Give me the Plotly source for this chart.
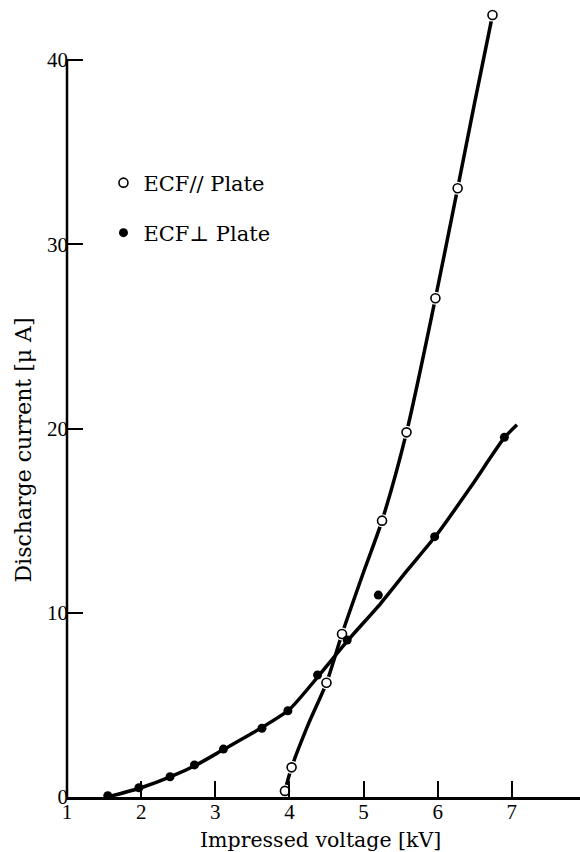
import plotly.graph_objects as go

# ---- data ----
# ECF // Plate (open circles)
par_v = [3.94, 4.03, 4.50, 4.71, 5.25, 5.58, 5.97, 6.27, 6.74]
par_i = [0.33, 1.61, 6.2, 8.85, 15.0, 19.79, 27.07, 33.04, 42.44]
# fitted curve for ECF // Plate
par_curve_v = [3.94, 4.03, 4.25, 4.50, 4.71, 5.0, 5.25, 5.58, 5.97, 6.27, 6.50, 6.74]
par_curve_i = [0.33, 1.61, 3.9, 6.2, 8.85, 12.2, 15.0, 19.79, 27.07, 33.04, 37.7, 42.44]

# ECF ⊥ Plate (filled circles)
perp_v = [1.55, 1.97, 2.39, 2.72, 3.11, 3.63, 3.98, 4.38, 4.78, 5.20, 5.96, 6.90]
perp_i = [0.07, 0.5, 1.1, 1.74, 2.6, 3.73, 4.68, 6.62, 8.52, 10.96, 14.13, 19.52]
# fitted curve for ECF ⊥ Plate
perp_curve_v = [1.55, 2.0, 2.4, 2.75, 3.1, 3.6, 4.0, 4.4, 4.8, 5.23, 5.6, 6.0, 6.45, 6.9, 7.07]
perp_curve_i = [0.0, 0.5, 1.1, 1.75, 2.55, 3.7, 4.75, 6.6, 8.55, 10.5, 12.35, 14.3, 16.85, 19.5, 20.2]

x_ticks = [1, 2, 3, 4, 5, 6, 7]
y_ticks = [0, 10, 20, 30, 40]

SERIF = "Liberation Serif"
TSERIF = "DejaVu Serif"
fig = go.Figure()

# curves
fig.add_trace(go.Scatter(x=par_curve_v, y=par_curve_i, mode="lines",
                         line=dict(color="black", width=3.5, shape="spline", smoothing=0.8),
                         showlegend=False, hoverinfo="skip"))
fig.add_trace(go.Scatter(x=perp_curve_v, y=perp_curve_i, mode="lines",
                         line=dict(color="black", width=3.5, shape="spline", smoothing=0.6),
                         showlegend=False, hoverinfo="skip"))
# white halo around open circles (gap in the line)
fig.add_trace(go.Scatter(x=par_v, y=par_i, mode="markers",
                         marker=dict(symbol="circle", size=13, color="white", line=dict(width=0)),
                         showlegend=False, hoverinfo="skip"))
# markers
fig.add_trace(go.Scatter(x=par_v, y=par_i, mode="markers", name="ECF// Plate",
                         marker=dict(symbol="circle", size=9, color="white",
                                     line=dict(color="black", width=1.6)),
                         legend="legend"))
fig.add_trace(go.Scatter(x=perp_v, y=perp_i, mode="markers", name="ECF\u22a5 Plate",
                         marker=dict(symbol="circle", size=9, color="black",
                                     line=dict(color="black", width=0)),
                         legend="legend2"))

# y-axis line only from 0 to 40
fig.add_shape(type="line", xref="paper", x0=0, x1=0, yref="y", y0=0, y1=40,
              line=dict(color="black", width=2.5))

L, R, T, B = 66.5, 0, 0, 55
W, H = 580, 852
pw, ph = W - L - R, H - T - B

def px_x(p):
    return (p - L) / pw

def px_y(p):
    return (H - B - p) / ph

legend_font = dict(family=TSERIF, size=21, color="black")
fig.update_layout(
    width=W, height=H,
    margin=dict(l=L, r=R, t=T, b=B),
    paper_bgcolor="white", plot_bgcolor="white",
    font=dict(family=SERIF, size=21, color="black"),
    showlegend=True,
    legend=dict(x=px_x(103), y=px_y(183), xanchor="left", yanchor="middle",
                font=legend_font, bgcolor="rgba(0,0,0,0)", itemwidth=30),
    legend2=dict(x=px_x(103), y=px_y(233), xanchor="left", yanchor="middle",
                 font=legend_font, bgcolor="rgba(0,0,0,0)", itemwidth=30),
    xaxis=dict(range=[1, 1 + pw / 74.2], tickvals=x_ticks, ticktext=[str(t) for t in x_ticks],
               ticks="inside", ticklen=16, tickwidth=2, tickcolor="black",
               showline=True, linecolor="black", linewidth=2.5, showgrid=False, zeroline=False,
               tickfont=dict(family=SERIF, size=21), ticklabelstandoff=-6),
    yaxis=dict(range=[0, (H - B) / 18.425], tickvals=y_ticks, ticktext=[str(t) for t in y_ticks],
               ticks="inside", ticklen=16, tickwidth=2, tickcolor="black",
               showline=False, showgrid=False, zeroline=False,
               tickfont=dict(family=SERIF, size=21), ticklabelstandoff=-2),
    annotations=[
        dict(text="Discharge current [\u03bc A]", textangle=-90,
             xref="paper", yref="paper", x=px_x(22), y=px_y(450),
             xanchor="center", yanchor="middle", showarrow=False,
             font=dict(family=TSERIF, size=22, color="black")),
        dict(text="Impressed voltage [kV]",
             xref="paper", yref="paper", x=px_x(320), y=px_y(840),
             xanchor="center", yanchor="middle", showarrow=False,
             font=dict(family=TSERIF, size=20.5, color="black")),
    ],
)

fig.write_html("out.html", config={"displayModeBar": False},
               post_script="document.body.style.margin='0';")
